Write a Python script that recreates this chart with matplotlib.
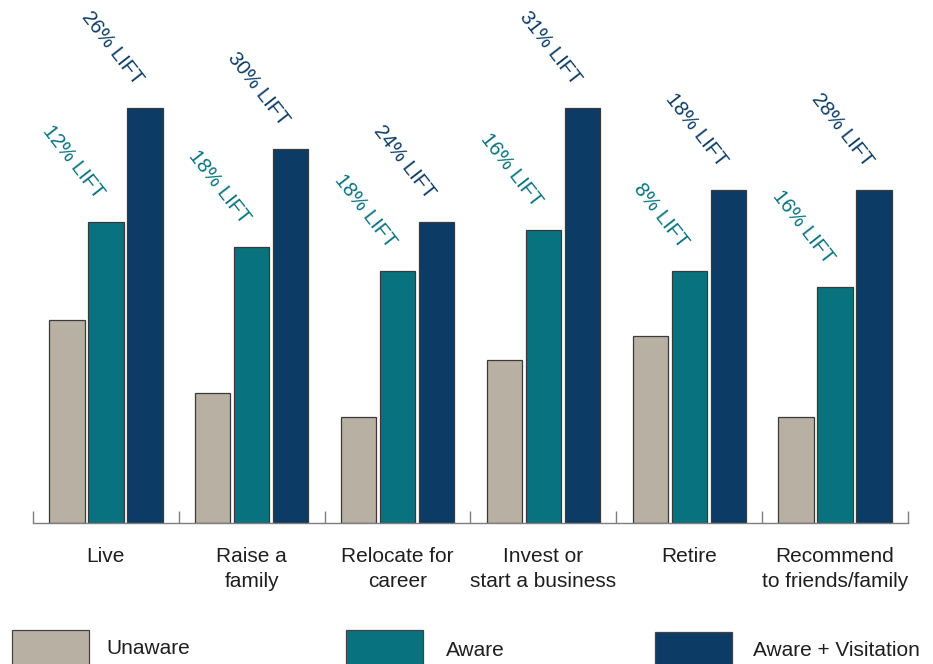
import numpy as np
import matplotlib
matplotlib.use("Agg")
import matplotlib.pyplot as plt
from matplotlib.patches import Rectangle

plt.rcParams['font.family'] = ['Liberation Sans', 'DejaVu Sans']

# Survey results: share of respondents (%) by awareness group
categories = ["Live", "Raise a\nfamily", "Relocate for\ncareer",
              "Invest or\nstart a business", "Retire",
              "Recommend\nto friends/family"]
series_names = ["Unaware", "Aware", "Aware + Visitation"]
unaware = [25, 16, 13, 20, 23, 13]
aware = [37, 34, 31, 36, 31, 29]
aware_visit = [51, 46, 37, 51, 41, 41]
aware_lift = [12, 18, 18, 16, 8, 16]
visit_lift = [26, 30, 24, 31, 18, 28]

colors = ["#b7b0a3", "#08737f", "#0c3c65"]
edge = "#3a3a3a"
text_color = "#1f1f1f"

W, H = 933, 664
fig = plt.figure(figsize=(W / 100, H / 100), dpi=100)
ax = fig.add_axes([33 / W, 141 / H, 875 / W, 523 / H])

x = np.arange(len(categories))
bar_w = 0.242
step = 0.267
series = [unaware, aware, aware_visit]
for i, (vals, col) in enumerate(zip(series, colors)):
    ax.bar(x + (i - 1) * step, vals, width=bar_w, color=col,
           edgecolor=edge, linewidth=0.9, zorder=2)

ax.set_xlim(-0.5, len(categories) - 0.5)
ax.set_ylim(0, 523 / 8.13)

# Lift callouts above the Aware and Aware + Visitation bars
for i in range(len(categories)):
    for off, top, lift, col in ((0, aware[i], aware_lift[i], colors[1]),
                                (step, aware_visit[i], visit_lift[i], colors[2])):
        ax.annotate(f"{lift}% LIFT", xy=(x[i] + off, top),
                    xytext=(-7, 16), textcoords="offset points",
                    rotation=-52, rotation_mode="anchor",
                    ha="right", va="baseline", fontsize=14.5, color=col,
                    annotation_clip=False)

for s in ("top", "left", "right"):
    ax.spines[s].set_visible(False)
ax.spines["bottom"].set_color("#7f7f7f")
ax.spines["bottom"].set_linewidth(1.0)
ax.set_yticks([])

ax.set_xticks(x)
ax.set_xticklabels(categories, fontsize=15, color=text_color, linespacing=1.45)
ax.tick_params(axis="x", which="major", length=0, pad=17)
ax.set_xticks(np.arange(-0.5, len(categories)), minor=True)
ax.tick_params(axis="x", which="minor", direction="in", length=9,
               width=1.0, color="#7f7f7f")

# Legend row along the bottom edge
legend_items = [(12, 106, 630, 648), (346, 446, 630, 651), (655, 753, 632, 650)]
for (bx, tx, by, ty), name, col in zip(legend_items, series_names, colors):
    fig.add_artist(Rectangle((bx / W, 1 - (by + 50) / H), 77 / W, 50 / H,
                             transform=fig.transFigure, facecolor=col,
                             edgecolor="#444444", linewidth=0.9))
    fig.text(tx / W, 1 - ty / H, name, fontsize=15, color=text_color,
             ha="left", va="center")

fig.savefig("out.png", dpi=100)
